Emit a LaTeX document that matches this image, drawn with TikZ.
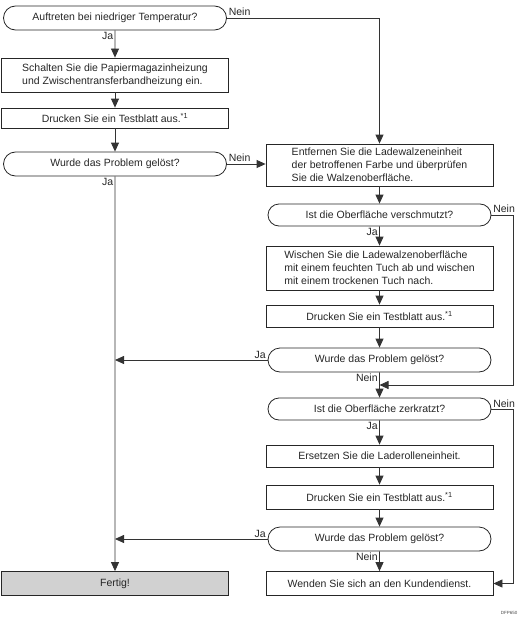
\documentclass[tikz,border=0pt]{standalone}
\usepackage{fontspec}
\setmainfont{Liberation Sans}
\usetikzlibrary{shapes.misc,arrows.meta,calc}
\begin{document}
\begin{tikzpicture}[x=1pt,y=-1pt,
 every node/.style={font=\fontsize{10.5}{12.8}\selectfont, text=black!85},
 box/.style={draw=black!85, line width=0.8pt, rectangle, minimum width=227pt, inner sep=2pt, align=left},
 term/.style={draw=black!85, line width=0.8pt, rounded rectangle, minimum width=227pt, inner sep=2pt},
 conn/.style={draw=black!80, line width=0.8pt},
 arr/.style={conn, -{Triangle[length=9pt,width=8pt]}},
 lbl/.style={font=\fontsize{10.5}{12}\selectfont, inner sep=1.5pt}
]
\useasboundingbox (0,0) rectangle (523,618);

% left column
\node[term, minimum height=24pt] (n1) at (115,18) {Auftreten bei niedriger Temperatur?};
\node[box, minimum height=34pt] (n2) at (115,75) {Schalten Sie die Papiermagazinheizung\\ und Zwischentransferbandheizung ein.};
\node[box, minimum height=20pt] (n3) at (115,118) {Drucken Sie ein Testblatt aus.\textsuperscript{*1}};
\node[term, minimum height=24pt] (n4) at (115,164) {Wurde das Problem gelöst?};
\node[box, minimum height=24pt, fill=black!18] (fertig) at (115,583.5) {Fertig!};

% right column
\node[box, minimum height=42pt] (n5) at (379.5,165) {Entfernen Sie die Ladewalzeneinheit\\ der betroffenen Farbe und überprüfen\\ Sie die Walzenoberfläche.};
\node[term, minimum height=22pt] (n6) at (379.5,215) {Ist die Oberfläche verschmutzt?};
\node[box, minimum height=44pt] (n7) at (379.5,268) {Wischen Sie die Ladewalzenoberfläche\\ mit einem feuchten Tuch ab und wischen\\ mit einem trockenen Tuch nach.};
\node[box, minimum height=22pt] (n8) at (379.5,316) {Drucken Sie ein Testblatt aus.\textsuperscript{*1}};
\node[term, minimum height=24pt] (n9) at (379.5,360) {Wurde das Problem gelöst?};
\node[term, minimum height=22pt] (n10) at (379.5,409) {Ist die Oberfläche zerkratzt?};
\node[box, minimum height=22pt] (n11) at (379.5,456) {Ersetzen Sie die Laderolleneinheit.};
\node[box, minimum height=24pt] (n12) at (379.5,497) {Drucken Sie ein Testblatt aus.\textsuperscript{*1}};
\node[term, minimum height=24pt] (n13) at (379.5,539) {Wurde das Problem gelöst?};
\node[box, minimum height=24pt] (n14) at (379.5,583.5) {Wenden Sie sich an den Kundendienst.};

\coordinate (m1) at ($(n9.south)!0.5!(n10.north)$);

% connectors left
\draw[arr] (n1.east) -- node[lbl,pos=0,anchor=south west]{Nein} (n1.east -| n5.north) -- (n5.north);
\draw[arr] (n1) -- node[lbl,pos=0,anchor=north east]{Ja} (n2);
\draw[arr] (n2) -- (n3);
\draw[arr] (n3) -- (n4);
\draw[arr] (n4.east) -- node[lbl,pos=0,anchor=south west]{Nein} (n4.east -| n5.west);
\draw[arr] (n4) -- node[lbl,pos=0,anchor=north east]{Ja} (fertig);

% connectors right
\draw[arr] (n5) -- (n6);
\draw[arr] (n6) -- node[lbl,pos=0,anchor=north east]{Ja} (n7);
\draw[arr] (n6.east) -- node[lbl,pos=0,anchor=south west]{Nein} ++(22,0) |- (m1);
\draw[arr] (n7) -- (n8);
\draw[arr] (n8) -- (n9);
\draw[arr] (n9.west) -- node[lbl,pos=0,anchor=south east]{Ja} (n9.west -| n4.south);
\draw[arr] (n9) -- node[lbl,pos=0,anchor=north east]{Nein} (n10);
\draw[arr] (n10) -- node[lbl,pos=0,anchor=north east]{Ja} (n11);
\draw[arr] (n10.east) -- node[lbl,pos=0,anchor=south west]{Nein} ++(22,0) |- (n14.east);
\draw[arr] (n11) -- (n12);
\draw[arr] (n12) -- (n13);
\draw[arr] (n13.west) -- node[lbl,pos=0,anchor=south east]{Ja} (n13.west -| n4.south);
\draw[arr] (n13) -- node[lbl,pos=0,anchor=north east]{Nein} (n14);

\node[font=\fontsize{4.5}{5}\selectfont, text=black!70, anchor=east] (dfp) at (521,613) {DFP650};
\end{tikzpicture}
\end{document}
